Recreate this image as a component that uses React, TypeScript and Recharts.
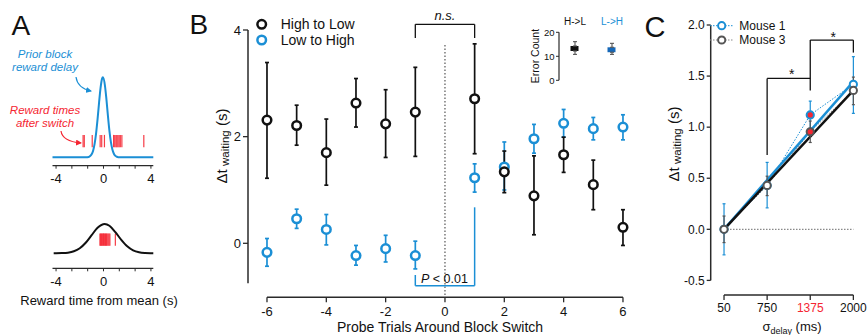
import React from 'react';
import { ComposedChart, Line, Scatter, ErrorBar, XAxis, YAxis, ReferenceLine, Bar, Cell } from 'recharts';

const FONT = '"Liberation Sans", Arial, Helvetica, sans-serif';
const BLUE = '#1b8fd5';
const DARKBLUE = '#1668b8';
const RED = '#f52632';
const INK = '#111111';
const AXIS = '#2a2a2a';
const GRAY = '#555555';
const W = 867;
const H = 335;

// ---------- Panel A data ----------
const narrowX = [-4.3, -3, -2, -1.5, -1.25, -1.125, -1, -0.875, -0.75, -0.625, -0.5, -0.375, -0.25, -0.125, -0.05, 0.125, 0.25, 0.375, 0.5, 0.625, 0.75, 0.875, 1, 1.125, 1.25, 1.5, 2, 3, 4.2];
const narrowY = [0, 0, 0, 0.001, 0.005, 0.015, 0.037, 0.083, 0.167, 0.3, 0.477, 0.68, 0.864, 0.98, 1, 0.894, 0.72, 0.517, 0.33, 0.189, 0.096, 0.044, 0.018, 0.0065, 0.002, 0, 0, 0, 0];
const wideX = [-4.2, -4, -3.5, -3, -2.5, -2, -1.5, -1, -0.5, 0.1, 0.5, 1, 1.5, 2, 2.5, 3, 3.5, 4, 4.2];
const wideY = [0.0008, 0.0012, 0.006, 0.022, 0.068, 0.173, 0.36, 0.62, 0.87, 1, 0.94, 0.72, 0.46, 0.24, 0.1, 0.035, 0.01, 0.0023, 0.001];
const narrowRaster = [-1.72, -1.62, -0.95, -0.28, -0.15, 0.08, 0.85, 0.95, 1.05, 1.13, 1.22, 1.32, 1.42, 1.55, 3.4];
const wideRaster = [-0.3, -0.24, -0.18, -0.12, -0.06, 0, 0.06, 0.12, 0.18, 0.24, 0.3, 0.38, 0.46, 0.54, 1.0];
const aTicks = [-4, -8 / 3, -4 / 3, 0, 4 / 3, 8 / 3, 4];

// ---------- Panel B data ----------
const trials = [-6, -5, -4, -3, -2, -1, 1, 2, 3, 4, 5, 6];
const hlMean = [2.31, 2.21, 1.7, 2.63, 2.24, 2.46, 2.71, 1.34, 0.89, 1.66, 1.1, 0.3];
const hlLow = [1.22, 1.84, 1.09, 2.18, 1.61, 1.63, 1.68, 0.95, 0.16, 1.33, 0.63, -0.04];
const hlHigh = [3.39, 2.59, 2.33, 3.09, 2.88, 3.3, 3.74, 1.73, 1.64, 1.99, 1.56, 0.63];
const lhMean = [-0.17, 0.46, 0.26, -0.23, -0.1, -0.23, 1.23, 1.43, 1.96, 2.25, 2.15, 2.18];
const lhLow = [-0.43, 0.28, -0.03, -0.41, -0.35, -0.48, 0.96, 1.0, 1.69, 1.99, 1.94, 1.94];
const lhHigh = [0.09, 0.64, 0.54, -0.04, 0.15, 0.04, 1.49, 1.9, 2.23, 2.51, 2.36, 2.41];
const bXTicks = [-6, -4, -2, 0, 2, 4, 6];
const bYTicks = [0, 2, 4];

// ---------- Inset data ----------
const groups = ['H->L', 'L->H'];
const boxLow = [12.2, 11.7];
const boxHigh = [14.3, 13.75];
const whiskLow = [10.8, 10.8];
const whiskHigh = [16.1, 15.4];

// ---------- Panel C data ----------
const sigmaLabels = ['50', '750', '1375', '2000'];
const highlightSigma = '1375';
const m1Mean = [0, 0.43, 1.12, 1.42];
const m1Low = [-0.25, 0.21, 0.99, 1.135];
const m1High = [0.25, 0.655, 1.255, 1.69];
const m3Mean = [0, 0.43, 0.955, 1.36];
const m3Low = [-0.13, 0.33, 0.85, 1.22];
const m3High = [0.13, 0.52, 1.06, 1.49];
const m1Fit = [0, 1.445];
const m3Fit = [0, 1.36];
const cYTicks = [-0.5, 0, 0.5, 1, 1.5, 2];

const abs: React.CSSProperties = { position: 'absolute', left: 0, top: 0 };

function ring(stroke: string, r: number, sw: number) {
  return (p: any) => (
    <circle cx={p.cx} cy={p.cy} r={r} fill={p.payload && p.payload.hot ? RED : '#fff'} stroke={stroke} strokeWidth={sw} />
  );
}

function PanelACurve({ xs, ys, raster, rLo, rHi, top, bottom, yMin, color }: any) {
  const data = xs.map((x: number, i: number) => ({ x, y: ys[i] }));
  return (
    <div style={abs}>
      <ComposedChart width={W} height={H} data={data} margin={{ left: 52.5, right: W - 153.3, top, bottom: H - bottom - 25 }}>
        <XAxis dataKey="x" type="number" domain={[-4.3, 4.2]} ticks={aTicks} interval={0}
          tickFormatter={(v: number) => (Math.abs(v) % 4 === 0 ? String(v) : '')}
          height={25} tickSize={3} tickMargin={5} axisLine={{ stroke: AXIS, strokeWidth: 1.3 }} tickLine={{ stroke: AXIS }}
          tick={{ fontSize: 13, fill: INK, fontFamily: FONT }} />
        <YAxis hide type="number" domain={[yMin, 1]} />
        {raster.map((x: number, i: number) => (
          <ReferenceLine key={i} segment={[{ x, y: rLo }, { x, y: rHi }]} stroke={RED} strokeWidth={1.2} strokeOpacity={0.9} />
        ))}
        <Line dataKey="y" type="monotone" stroke={color} strokeWidth={2} dot={false} isAnimationActive={false} />
      </ComposedChart>
    </div>
  );
}

function PanelB() {
  const hl = trials.map((x, i) => ({ x, y: hlMean[i], err: [hlMean[i] - hlLow[i], hlHigh[i] - hlMean[i]] }));
  const lh = trials.map((x, i) => ({ x, y: lhMean[i], err: [lhMean[i] - lhLow[i], lhHigh[i] - lhMean[i]] }));
  const yMin = -1.0125;
  const xMin = -6.64;
  return (
    <div style={abs}>
      <ComposedChart width={W} height={H} margin={{ left: 208, top: 14, right: W - 637.8, bottom: H - 297.3 - 30 }}>
        <XAxis dataKey="x" type="number" domain={[xMin, 6.5]} ticks={bXTicks} interval={0} height={30} tickSize={5} tickMargin={4}
          axisLine={false} tickLine={{ stroke: AXIS, strokeWidth: 1.3 }} tick={{ fontSize: 13, fill: INK, fontFamily: FONT }} />
        <YAxis dataKey="y" type="number" domain={[yMin, 4.3]} ticks={bYTicks} interval={0} width={40} tickSize={5} tickMargin={2}
          axisLine={false} tickLine={{ stroke: AXIS, strokeWidth: 1.3 }} tick={{ fontSize: 13, fill: INK, fontFamily: FONT }} />
        <ReferenceLine segment={[{ x: xMin, y: -0.75 }, { x: xMin, y: 4 }]} stroke={AXIS} strokeWidth={1.5} />
        <ReferenceLine segment={[{ x: -6, y: yMin }, { x: 6, y: yMin }]} stroke={AXIS} strokeWidth={1.5} />
        <ReferenceLine segment={[{ x: 0, y: 3.72 }, { x: 0, y: yMin }]} stroke={GRAY} strokeWidth={1.2} strokeDasharray="1.5 2" />
        <ReferenceLine segment={[{ x: -1, y: 4.106 }, { x: 1, y: 4.106 }]} stroke={INK} strokeWidth={1.3} />
        <ReferenceLine segment={[{ x: -1, y: 4.106 }, { x: -1, y: 3.85 }]} stroke={INK} strokeWidth={1.3} />
        <ReferenceLine segment={[{ x: 1, y: 4.106 }, { x: 1, y: 3.85 }]} stroke={INK} strokeWidth={1.3} />
        <ReferenceLine segment={[{ x: -1, y: -0.795 }, { x: 1, y: -0.795 }]} stroke={BLUE} strokeWidth={1.5} />
        <ReferenceLine segment={[{ x: -1, y: -0.795 }, { x: -1, y: -0.594 }]} stroke={BLUE} strokeWidth={1.5} />
        <ReferenceLine segment={[{ x: 1, y: -0.795 }, { x: 1, y: 0.675 }]} stroke={BLUE} strokeWidth={1.5} />
        <Scatter data={lh} shape={ring(BLUE, 4.3, 2.5)} isAnimationActive={false}>
          <ErrorBar dataKey="err" direction="y" width={2} stroke={BLUE} strokeWidth={1.7} />
        </Scatter>
        <Scatter data={hl} shape={ring(INK, 4.3, 2.5)} isAnimationActive={false}>
          <ErrorBar dataKey="err" direction="y" width={2} stroke={INK} strokeWidth={1.7} />
        </Scatter>
      </ComposedChart>
    </div>
  );
}

function InsetTick(props: any) {
  const { x, y, payload } = props;
  const i = Math.round(payload.value) - 1;
  return (
    <text x={x} y={y} textAnchor="middle" fontSize={10} fontFamily={FONT} fill={i === 0 ? INK : BLUE}>{groups[i]}</text>
  );
}

function Inset() {
  const boxes = groups.map((g, i) => ({ x: i + 1, box: [boxLow[i], boxHigh[i]] }));
  const upper = groups.map((g, i) => ({ x: i + 1, y: boxHigh[i], err: [0, whiskHigh[i] - boxHigh[i]] }));
  const lower = groups.map((g, i) => ({ x: i + 1, y: boxLow[i], err: [boxLow[i] - whiskLow[i], 0] }));
  return (
    <div style={abs}>
      <ComposedChart width={W} height={H} data={boxes} margin={{ left: 534, top: 12.3, right: W - 629, bottom: H - 80.3 }}>
        <XAxis dataKey="x" type="number" orientation="top" domain={[0.5676, 2.4595]} ticks={[1, 2]} interval={0} height={20}
          tickSize={0} tickMargin={7} axisLine={false} tickLine={false} tick={<InsetTick />} />
        <YAxis dataKey="y" type="number" domain={[0, 20]} ticks={[0, 10, 20]} interval={0} width={25} tickSize={3} tickMargin={1.5}
          axisLine={{ stroke: AXIS, strokeWidth: 1.2 }} tickLine={{ stroke: AXIS }} tick={{ fontSize: 9.5, fill: INK, fontFamily: FONT }} />
        <Bar dataKey="box" barSize={8} isAnimationActive={false}>
          {boxes.map((b, i) => <Cell key={i} fill={i === 0 ? INK : DARKBLUE} />)}
        </Bar>
        <Scatter data={upper} shape={() => <g />} isAnimationActive={false}>
          <ErrorBar dataKey="err" direction="y" width={2} stroke={GRAY} strokeWidth={1.1} />
        </Scatter>
        <Scatter data={lower} shape={() => <g />} isAnimationActive={false}>
          <ErrorBar dataKey="err" direction="y" width={2} stroke={GRAY} strokeWidth={1.1} />
        </Scatter>
      </ComposedChart>
    </div>
  );
}

function CTick(props: any) {
  const { x, y, payload } = props;
  const label = sigmaLabels[Math.round(payload.value)] ?? '';
  return (
    <text x={x} y={y} dy="0.71em" textAnchor="middle" fontSize={12} fontFamily={FONT} fill={label === highlightSigma ? RED : INK}>{label}</text>
  );
}

function PanelC() {
  const idx = sigmaLabels.map((_, i) => i);
  const m1 = idx.map(i => ({ x: i, y: m1Mean[i], err: [m1Mean[i] - m1Low[i], m1High[i] - m1Mean[i]], hot: sigmaLabels[i] === highlightSigma }));
  const m3 = idx.map(i => ({ x: i, y: m3Mean[i], err: [m3Mean[i] - m3Low[i], m3High[i] - m3Mean[i]], hot: sigmaLabels[i] === highlightSigma }));
  const last = sigmaLabels.length - 1;
  const fit1 = [{ x: 0, y: m1Fit[0] }, { x: last, y: m1Fit[1] }];
  const fit3 = [{ x: 0, y: m3Fit[0] }, { x: last, y: m3Fit[1] }];
  const yMin = -0.643;
  const xMin = -0.309;
  return (
    <div style={abs}>
      <ComposedChart width={W} height={H} margin={{ left: 670.7, top: 25, right: 0.7, bottom: 0 }}>
        <XAxis dataKey="x" type="number" domain={[xMin, 3.3]} ticks={idx} interval={0} height={40} tickSize={5} tickMargin={3}
          axisLine={false} tickLine={{ stroke: AXIS, strokeWidth: 1.3 }} tick={<CTick />} />
        <YAxis dataKey="y" type="number" domain={[yMin, 2]} ticks={cYTicks} interval={0} width={40} tickSize={4} tickMargin={2}
          tickFormatter={(v: number) => v.toFixed(1)} axisLine={false} tickLine={{ stroke: AXIS, strokeWidth: 1.3 }}
          tick={{ fontSize: 12, fill: INK, fontFamily: FONT }} />
        <ReferenceLine segment={[{ x: xMin, y: -0.5 }, { x: xMin, y: 2 }]} stroke={AXIS} strokeWidth={1.5} />
        <ReferenceLine segment={[{ x: 0, y: yMin }, { x: last, y: yMin }]} stroke={AXIS} strokeWidth={1.5} />
        <ReferenceLine segment={[{ x: 0, y: 0 }, { x: last, y: 0 }]} stroke="#888" strokeWidth={1.3} strokeDasharray="1.5 1.5" />
        <ReferenceLine segment={[{ x: 1, y: 1.477 }, { x: 2, y: 1.477 }]} stroke={INK} strokeWidth={1.3} />
        <ReferenceLine segment={[{ x: 1, y: 1.477 }, { x: 1, y: 0.727 }]} stroke={INK} strokeWidth={1.3} />
        <ReferenceLine segment={[{ x: 2, y: 1.852 }, { x: 2, y: 1.36 }]} stroke={INK} strokeWidth={1.3} />
        <ReferenceLine segment={[{ x: 2, y: 1.852 }, { x: 3, y: 1.852 }]} stroke={INK} strokeWidth={1.3} />
        <ReferenceLine segment={[{ x: 3, y: 1.852 }, { x: 3, y: 1.73 }]} stroke={INK} strokeWidth={1.3} />
        <Line data={m1} dataKey="y" type="linear" stroke={BLUE} strokeWidth={1} strokeDasharray="1.5 1.5" dot={false} isAnimationActive={false} />
        <Line data={m3} dataKey="y" type="linear" stroke="#888" strokeWidth={1} strokeDasharray="1.5 1.5" dot={false} isAnimationActive={false} />
        <Line data={fit1} dataKey="y" type="linear" stroke={BLUE} strokeWidth={2.5} dot={false} isAnimationActive={false} />
        <Line data={fit3} dataKey="y" type="linear" stroke={INK} strokeWidth={2.5} dot={false} isAnimationActive={false} />
        <Scatter data={m1} shape={ring(BLUE, 3.6, 2)} isAnimationActive={false}>
          <ErrorBar dataKey="err" direction="y" width={1.5} stroke={BLUE} strokeWidth={1.2} />
        </Scatter>
        <Scatter data={m3} shape={ring(GRAY, 3.6, 2)} isAnimationActive={false}>
          <ErrorBar dataKey="err" direction="y" width={1.5} stroke={GRAY} strokeWidth={1.2} />
        </Scatter>
      </ComposedChart>
    </div>
  );
}

function Overlay() {
  return (
    <svg width={W} height={H} style={{ ...abs, pointerEvents: 'none' }} fontFamily={FONT}>
      <defs>
        <marker id="ahBlue" markerWidth="6" markerHeight="6" refX="5" refY="3" orient="auto" markerUnits="userSpaceOnUse">
          <path d="M0,0 L6,3 L0,6 z" fill={BLUE} />
        </marker>
        <marker id="ahRed" markerWidth="6" markerHeight="6" refX="5" refY="3" orient="auto" markerUnits="userSpaceOnUse">
          <path d="M0,0 L6,3 L0,6 z" fill={RED} />
        </marker>
      </defs>
      {/* panel letters */}
      <text x={11.5} y={35} fontSize={28} fill={INK}>A</text>
      <text x={189.5} y={34.3} fontSize={28} fill={INK}>B</text>
      <text x={644.5} y={36.5} fontSize={29} fill={INK}>C</text>

      {/* Panel A annotations */}
      <text x={45} y={58} textAnchor="middle" fontSize={11.5} fontStyle="italic" fill={BLUE}>Prior block</text>
      <text x={45} y={70.7} textAnchor="middle" fontSize={11.5} fontStyle="italic" fill={BLUE}>reward delay</text>
      <path d="M76,77 C77,85 82,89 91,91" fill="none" stroke={BLUE} strokeWidth={1.2} markerEnd="url(#ahBlue)" />
      <text x={45} y={114} textAnchor="middle" fontSize={11.5} fontStyle="italic" fill={RED}>Reward times</text>
      <text x={45} y={126.7} textAnchor="middle" fontSize={11.5} fontStyle="italic" fill={RED}>after switch</text>
      <path d="M61,131 C62,139 70,142 81,143" fill="none" stroke={RED} strokeWidth={1.2} markerEnd="url(#ahRed)" />
      <text x={99} y={304.5} textAnchor="middle" fontSize={13} fill={INK}>Reward time from mean (s)</text>

      {/* Panel B legend and labels */}
      <circle cx={261.7} cy={24.3} r={4.3} fill="#fff" stroke={INK} strokeWidth={2.5} />
      <text x={280.7} y={29.3} fontSize={14} fill={INK}>High to Low</text>
      <circle cx={261.7} cy={40} r={4.3} fill="#fff" stroke={BLUE} strokeWidth={2.5} />
      <text x={280.7} y={45} fontSize={14} fill={INK}>Low to High</text>
      <text x={445} y={20.3} textAnchor="middle" fontSize={13} fontStyle="italic" fill={INK}>n.s.</text>
      <text x={421} y={282.5} fontSize={12.5} fill={INK}><tspan fontStyle="italic">P</tspan>{' < 0.01'}</text>
      <g transform="translate(222,146) rotate(-90)">
        <text textAnchor="middle" y={5} fontSize={15} fill={INK}>Δt<tspan fontSize={11.5} dy={2}>{' waiting'}</tspan><tspan fontSize={15} dy={-2}>{' (s)'}</tspan></text>
      </g>
      <text x={440} y={331.5} textAnchor="middle" fontSize={14} fill={INK}>Probe Trials Around Block Switch</text>

      {/* Inset label */}
      <g transform="translate(535,56) rotate(-90)">
        <text textAnchor="middle" y={3.8} fontSize={10.5} fill={INK}>Error Count</text>
      </g>

      {/* Panel C legend and labels */}
      <line x1={710} y1={25.7} x2={733} y2={25.7} stroke={BLUE} strokeWidth={1} strokeDasharray="1.5 1.5" />
      <circle cx={721.7} cy={25.7} r={3.6} fill="#fff" stroke={BLUE} strokeWidth={2} />
      <text x={739.3} y={30} fontSize={12} fill={INK}>Mouse 1</text>
      <line x1={710} y1={40} x2={733} y2={40} stroke="#888" strokeWidth={1} strokeDasharray="1.5 1.5" />
      <circle cx={721.7} cy={40} r={3.6} fill="#fff" stroke={GRAY} strokeWidth={2} />
      <text x={739.3} y={44.3} fontSize={12} fill={INK}>Mouse 3</text>
      <text x={791.7} y={79} textAnchor="middle" fontSize={14} fill={INK}>*</text>
      <text x={833.3} y={41.5} textAnchor="middle" fontSize={14} fill={INK}>*</text>
      <g transform="translate(674,144) rotate(-90)">
        <text textAnchor="middle" y={5} fontSize={15} fill={INK}>Δt<tspan fontSize={11.5} dy={2}>{' waiting'}</tspan><tspan fontSize={15} dy={-2}>{' (s)'}</tspan></text>
      </g>
      <text x={792} y={331} textAnchor="middle" fontSize={13} fill={INK}>σ<tspan fontSize={9} dy={3}>delay</tspan><tspan fontSize={13} dy={-3}>{' (ms)'}</tspan></text>
    </svg>
  );
}

export default function App() {
  return (
    <div style={{ position: 'absolute', left: 0, top: 0, width: W, height: H, background: '#fff', fontFamily: FONT, overflow: 'hidden' }}>
      <PanelACurve xs={narrowX} ys={narrowY} raster={narrowRaster} rLo={0.125} rHi={0.28} top={77.3} bottom={165.7} yMin={-0.105} color={BLUE} />
      <PanelACurve xs={wideX} ys={wideY} raster={wideRaster} rLo={0.26} rHi={0.68} top={224} bottom={268.3} yMin={-0.512} color={INK} />
      <PanelB />
      <Inset />
      <PanelC />
      <Overlay />
    </div>
  );
}
